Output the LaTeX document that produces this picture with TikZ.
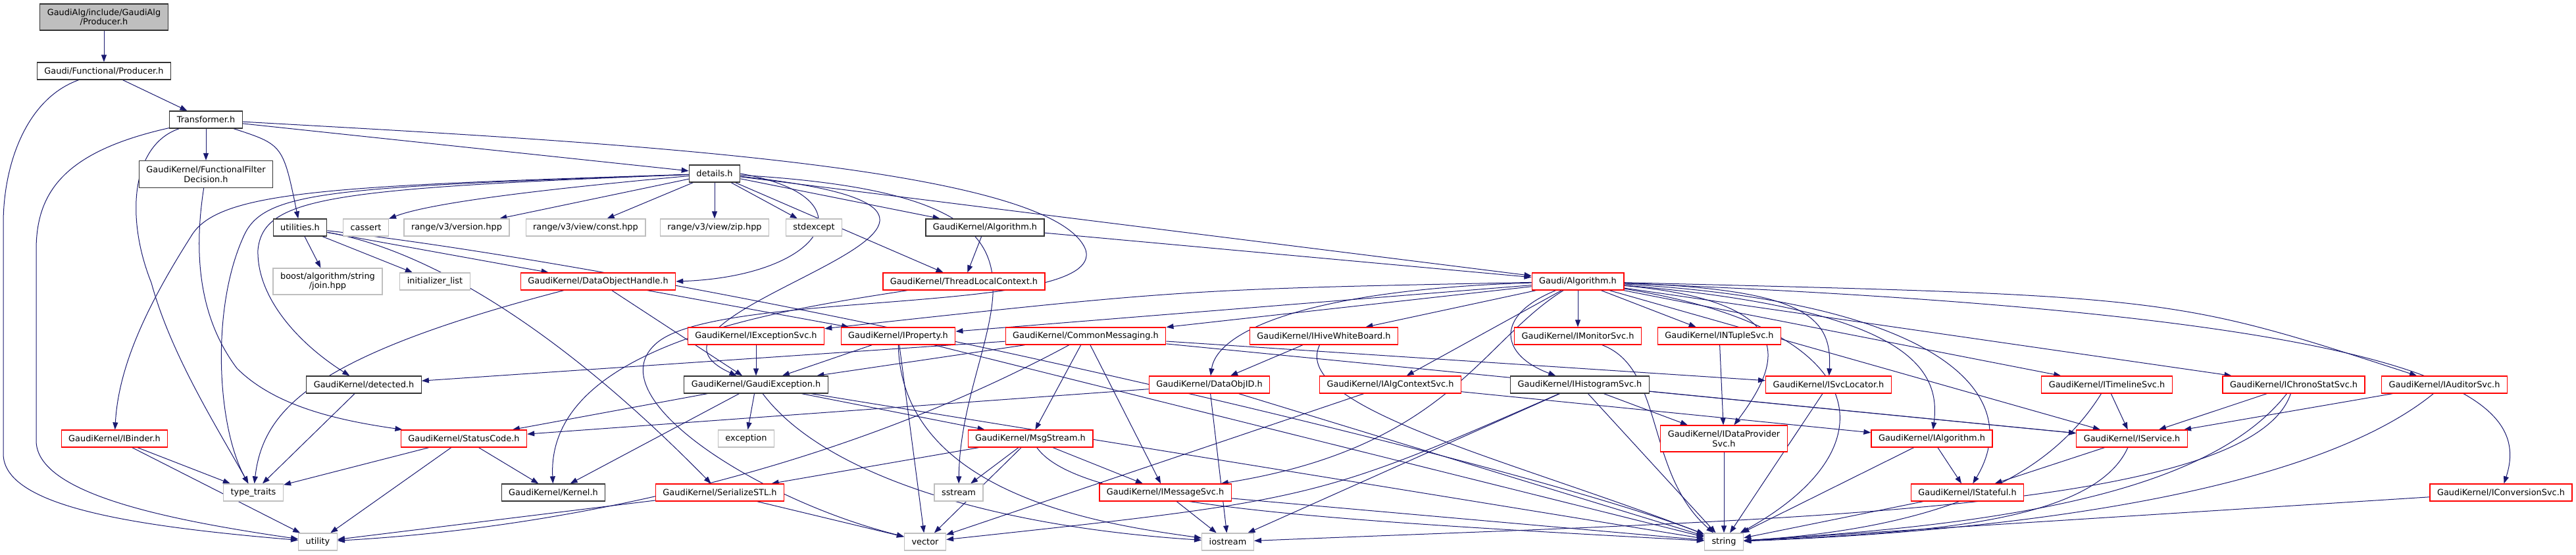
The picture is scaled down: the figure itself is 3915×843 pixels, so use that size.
\documentclass[tikz,border=0pt]{standalone}
\usepackage{fontspec}
\setmainfont{DejaVu Sans}
\usetikzlibrary{arrows.meta}
\definecolor{edgeblue}{HTML}{191970}
\definecolor{boxgray}{HTML}{BFBFBF}
\pgfdeclarelayer{edges}
\pgfsetlayers{edges,main}

\begin{document}
\begin{tikzpicture}[x=1pt, y=-1pt, >={Triangle[length=11pt,width=8pt]},
        box/.style={draw, fill=white, line width=1.3pt, inner xsep=11pt, inner ysep=0pt,
            minimum height=26pt, align=center, font=\fontsize{12.9}{14.5}\selectfont},
        doc/.style={box, draw=black!80},
        cut/.style={box, draw=red},
        sys/.style={box, draw=boxgray},
        dep/.style={->, edgeblue, line width=1pt}]
        \useasboundingbox (0,0) rectangle (3915,843);

        \node[doc, fill=boxgray, minimum height=40pt] (prod) at (158,26) {GaudiAlg/include/GaudiAlg\\/Producer.h};
        \node[doc] (fprod) at (158,108) {Gaudi/Functional/Producer.h};
        \node[doc] (trans) at (313,182) {Transformer.h};
        \node[doc, minimum height=41pt] (ffd) at (313,265) {GaudiKernel/FunctionalFilter\\Decision.h};
        \node[doc] (details) at (1086,264) {details.h};

        \node[doc] (utils) at (456,346) {utilities.h};
        \node[sys] (cassert) at (556,346) {cassert};
        \node[sys] (rversion) at (694,346) {range/v3/version.hpp};
        \node[sys] (rconst) at (890,346) {range/v3/view/const.hpp};
        \node[sys] (rzip) at (1086,346) {range/v3/view/zip.hpp};
        \node[sys] (stdexcept) at (1237,346) {stdexcept};
        \node[doc] (kalgo) at (1497,346) {GaudiKernel/Algorithm.h};

        \node[sys, minimum height=40pt] (boostjoin) at (498,428) {boost/algorithm/string\\/join.hpp};
        \node[sys] (initlist) at (661,428) {initializer\_list};
        \node[cut] (dohandle) at (909,428) {GaudiKernel/DataObjectHandle.h};
        \node[cut] (tlctx) at (1465,428) {GaudiKernel/ThreadLocalContext.h};
        \node[cut] (galgo) at (2398,428) {Gaudi/Algorithm.h};

        \node[cut] (iexcsvc) at (1149,511) {GaudiKernel/IExceptionSvc.h};
        \node[cut] (iprop) at (1365,511) {GaudiKernel/IProperty.h};
        \node[cut] (commsg) at (1650,511) {GaudiKernel/CommonMessaging.h};
        \node[cut] (ihive) at (2012,511) {GaudiKernel/IHiveWhiteBoard.h};
        \node[cut] (imonsvc) at (2398,511) {GaudiKernel/IMonitorSvc.h};
        \node[cut] (intuple) at (2613,511) {GaudiKernel/INTupleSvc.h};

        \node[doc] (detected) at (553,585) {GaudiKernel/detected.h};
        \node[doc] (gexc) at (1149,585) {GaudiKernel/GaudiException.h};
        \node[cut] (dataobjid) at (1838,585) {GaudiKernel/DataObjID.h};
        \node[cut] (ialgctx) at (2113,585) {GaudiKernel/IAlgContextSvc.h};
        \node[doc] (ihistsvc) at (2401,585) {GaudiKernel/IHistogramSvc.h};
        \node[cut] (isvcloc) at (2779,585) {GaudiKernel/ISvcLocator.h};
        \node[cut] (itimeline) at (3202,585) {GaudiKernel/ITimelineSvc.h};
        \node[cut] (ichrono) at (3486,585) {GaudiKernel/IChronoStatSvc.h};
        \node[cut] (iauditor) at (3715,585) {GaudiKernel/IAuditorSvc.h};

        \node[cut] (ibinder) at (174,667) {GaudiKernel/IBinder.h};
        \node[cut] (statuscode) at (705,667) {GaudiKernel/StatusCode.h};
        \node[sys] (exception) at (1134,667) {exception};
        \node[cut] (msgstream) at (1566,667) {GaudiKernel/MsgStream.h};
        \node[cut, minimum height=40pt] (idatasvc) at (2620,667) {GaudiKernel/IDataProvider\\Svc.h};
        \node[cut] (ialgorithm) at (2936,667) {GaudiKernel/IAlgorithm.h};
        \node[cut] (iservice) at (3240,667) {GaudiKernel/IService.h};

        \node[sys] (typetraits) at (385,749) {type\_traits};
        \node[doc] (kernel) at (841,749) {GaudiKernel/Kernel.h};
        \node[cut] (serialize) at (1094,749) {GaudiKernel/SerializeSTL.h};
        \node[sys] (sstream) at (1457,749) {sstream};
        \node[cut] (imsgsvc) at (1771,749) {GaudiKernel/IMessageSvc.h};
        \node[cut] (istateful) at (2990,749) {GaudiKernel/IStateful.h};
        \node[cut] (iconvsvc) at (3801,749) {GaudiKernel/IConversionSvc.h};

        \node[sys] (utility) at (483,824) {utility};
        \node[sys] (vector) at (1406,824) {vector};
        \node[sys] (iostream) at (1866,824) {iostream};
        \node[sys] (string) at (2620,824) {string};

        \begin{pgfonlayer}{edges}
        \draw[dep] (prod) -- (fprod);
        \draw[dep] (fprod) -- (trans);
        \draw[dep] (fprod) .. controls (40,150) and (5,250) .. (5,340) -- (5,690)
            .. controls (5,770) and (200,800) .. (utility);

        \draw[dep] (trans) -- (ffd);
        \draw[dep] (trans) .. controls (430,220) .. (utils);
        \draw[dep] (trans) -- (details);
        \draw[dep] (trans) .. controls (200,220) and (190,330) .. (230,430)
            .. controls (260,540) and (330,650) .. (typetraits);
        \draw[dep] (trans) .. controls (100,230) and (55,290) .. (55,380) -- (55,670)
            .. controls (55,750) and (250,790) .. (utility);
        \draw[dep] (trans) .. controls (900,215) and (1600,250) .. (1650,380)
            .. controls (1680,480) and (1100,440) .. (1000,520)
            .. controls (900,600) and (1150,760) .. (vector);
        \draw[dep] (ffd) .. controls (295,380) and (300,480) .. (360,560)
            .. controls (420,620) and (520,640) .. (statuscode);

        \draw[dep] (utils) -- (boostjoin);
        \draw[dep] (utils) -- (initlist);
        \draw[dep] (utils) -- (dohandle);
        \draw[dep] (utils) .. controls (650,380) and (850,500) .. (serialize);
        \draw[dep] (utils) .. controls (1100,420) and (2300,700) .. (string);

        \draw[dep] (details) .. controls (800,290) and (650,310) .. (cassert);
        \draw[dep] (details) -- (rversion);
        \draw[dep] (details) -- (rconst);
        \draw[dep] (details) -- (rzip);
        \draw[dep] (details) -- (stdexcept);
        \draw[dep] (details) -- (kalgo);
        \draw[dep] (details) -- (tlctx);
        \draw[dep] (details) -- (galgo);
        \draw[dep] (details.east) .. controls (1330,300) and (1250,420) .. (dohandle.east);
        \draw[dep] (details) .. controls (500,283) and (330,290) .. (290,360)
            .. controls (220,470) and (180,560) .. (ibinder);
        \draw[dep] (details) .. controls (500,285) and (400,290) .. (370,360)
            .. controls (320,470) and (330,650) .. (typetraits);
        \draw[dep] (details) .. controls (500,287) and (400,300) .. (392,380)
            .. controls (390,450) and (450,520) .. (detected);
        \draw[dep] (details) .. controls (1700,330) and (900,470) .. (gexc);
        \draw[dep] (details) .. controls (1700,300) and (1460,480) .. (sstream);

        \draw[dep] (kalgo) -- (tlctx);
        \draw[dep] (kalgo) -- (galgo);
        \draw[dep] (tlctx) .. controls (1200,470) and (830,520) .. (kernel);

        \draw[dep] (dohandle) .. controls (480,540) and (400,620) .. (typetraits);
        \draw[dep] (dohandle) -- (gexc);
        \draw[dep] (dohandle) -- (iprop);
        \draw[dep] (detected) -- (typetraits);
        \draw[dep] (ibinder) -- (typetraits);
        \draw[dep] (ibinder) -- (utility);
        \draw[dep] (statuscode) -- (typetraits);
        \draw[dep] (statuscode) -- (utility);
        \draw[dep] (statuscode) -- (kernel);

        \draw[dep] (iexcsvc) -- (gexc);
        \draw[dep] (iprop) -- (gexc);
        \draw[dep] (iprop) -- (vector);
        \draw[dep] (iprop) .. controls (1370,760) and (1700,800) .. (iostream);
        \draw[dep] (iprop) -- (string);

        \draw[dep] (gexc) -- (statuscode);
        \draw[dep] (gexc) -- (kernel);
        \draw[dep] (gexc) -- (exception);
        \draw[dep] (gexc) -- (msgstream);
        \draw[dep] (gexc) .. controls (1250,720) and (1500,800) .. (iostream);
        \draw[dep] (gexc) -- (string);

        \draw[dep] (commsg) -- (detected);
        \draw[dep] (commsg) -- (gexc);
        \draw[dep] (commsg) -- (msgstream);
        \draw[dep] (commsg) -- (imsgsvc);
        \draw[dep] (commsg) -- (isvcloc);
        \draw[dep] (commsg) -- (iservice);
        \draw[dep] (commsg) .. controls (1300,700) and (900,800) .. (utility);

        \draw[dep] (msgstream) -- (sstream);
        \draw[dep] (msgstream) -- (vector);
        \draw[dep] (msgstream) -- (imsgsvc);
        \draw[dep] (msgstream) -- (serialize);
        \draw[dep] (msgstream) .. controls (1640,770) and (2000,790) .. (string);
        \draw[dep] (serialize) -- (utility);
        \draw[dep] (serialize) -- (vector);
        \draw[dep] (imsgsvc) -- (iostream);
        \draw[dep] (imsgsvc) -- (string);

        \draw[dep] (dataobjid) -- (statuscode);
        \draw[dep] (dataobjid) -- (iostream);
        \draw[dep] (dataobjid) -- (string);
        \draw[dep] (ihive) -- (dataobjid);
        \draw[dep] (ihive) .. controls (1960,620) and (2300,700) .. (string);

        \draw[dep] (galgo) -- (iprop);
        \draw[dep] (galgo) -- (commsg);
        \draw[dep] (galgo) .. controls (1800,440) .. (iexcsvc);
        \draw[dep] (galgo) -- (ihive);
        \draw[dep] (galgo) -- (imonsvc);
        \draw[dep] (galgo) -- (intuple);
        \draw[dep] (galgo) .. controls (2000,440) and (1850,500) .. (dataobjid);
        \draw[dep] (galgo) -- (ialgctx);
        \draw[dep] (galgo) .. controls (2270,480) and (2280,540) .. (ihistsvc);
        \draw[dep] (galgo) .. controls (2740,440) and (2785,480) .. (isvcloc);
        \draw[dep] (galgo) .. controls (2750,460) and (2700,560) .. (idatasvc);
        \draw[dep] (galgo) .. controls (2900,470) and (2950,560) .. (ialgorithm);
        \draw[dep] (galgo) .. controls (2950,460) and (3080,600) .. (istateful);
        \draw[dep] (galgo) -- (iservice);
        \draw[dep] (galgo) -- (itimeline);
        \draw[dep] (galgo) -- (ichrono);
        \draw[dep] (galgo) .. controls (3300,450) .. (iauditor);
        \draw[dep] (galgo) .. controls (3700,480) and (3850,600) .. (iconvsvc);
        \draw[dep] (galgo) .. controls (2250,520) and (2200,680) .. (imsgsvc);
        \draw[dep] (galgo) .. controls (2850,500) and (2880,680) .. (string);

        \draw[dep] (imonsvc) .. controls (2530,560) and (2500,720) .. (string);
        \draw[dep] (intuple) -- (idatasvc);
        \draw[dep] (ialgctx) -- (vector);
        \draw[dep] (ialgctx) -- (ialgorithm);
        \draw[dep] (ihistsvc) -- (idatasvc);
        \draw[dep] (ihistsvc) -- (iservice);
        \draw[dep] (ihistsvc) -- (string);
        \draw[dep] (ihistsvc) .. controls (2000,760) .. (vector);
        \draw[dep] (ihistsvc) -- (iostream);
        \draw[dep] (idatasvc) -- (string);
        \draw[dep] (isvcloc) -- (string);
        \draw[dep] (ialgorithm) -- (istateful);
        \draw[dep] (ialgorithm) -- (string);
        \draw[dep] (iservice) -- (istateful);
        \draw[dep] (iservice) .. controls (3180,800) and (2900,810) .. (string);
        \draw[dep] (istateful) -- (string);
        \draw[dep] (itimeline) -- (iservice);
        \draw[dep] (itimeline) .. controls (3130,700) and (3000,800) .. (string);
        \draw[dep] (ichrono) -- (iservice);
        \draw[dep] (ichrono) .. controls (3350,760) and (3000,800) .. (string);
        \draw[dep] (ichrono) .. controls (3420,780) and (2700,790) .. (iostream);
        \draw[dep] (iauditor) -- (iservice);
        \draw[dep] (iauditor) .. controls (3500,760) and (3000,810) .. (string);
        \draw[dep] (iconvsvc) -- (string);
        \end{pgfonlayer}
\end{tikzpicture}
\end{document}
